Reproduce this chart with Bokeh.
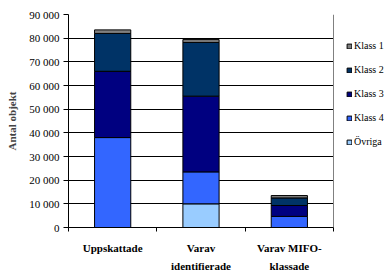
from bokeh.plotting import figure
from bokeh.models import (ColumnDataSource, FixedTicker, Range1d, Legend, LegendItem, Grid)
from bokeh.embed import file_html
from bokeh.resources import INLINE

categories = ["Uppskattade", "Varav\nidentifierade", "Varav MIFO-\nklassade"]
ovriga = [0, 10000, 0]
klass4 = [38000, 13500, 4700]
klass3 = [28000, 32000, 4600]
klass2 = [16000, 22700, 3200]
klass1 = [1500, 1200, 1000]
series_names = ["Övriga", "Klass 4", "Klass 3", "Klass 2", "Klass 1"]
colors = ["#99CCFF", "#3366FF", "#000080", "#003366", "#808080"]
y_ticks = [0, 10000, 20000, 30000, 40000, 50000, 60000, 70000, 80000, 90000]
y_tick_labels = ["0", "10 000", "20 000", "30 000", "40 000", "50 000",
                 "60 000", "70 000", "80 000", "90 000"]

W, H = 387, 274
left, right_plot, top, bottom = 68, 333, 14, 229
n = len(categories)
unit = (right_plot - left) / n
x_end = (W - left) / unit  # frame extends to the right edge so the legend is not clipped

xpos = [i + 0.5 for i in range(n)]
source = ColumnDataSource(dict(x=xpos, ovriga=ovriga, k4=klass4, k3=klass3,
                               k2=klass2, k1=klass1))
fields = ["ovriga", "k4", "k3", "k2", "k1"]

p = figure(width=W, height=H, output_backend="svg", toolbar_location=None,
           x_range=Range1d(0, x_end), y_range=Range1d(0, 90000))
p.min_border_left = left
p.min_border_right = 0
p.min_border_top = top
p.min_border_bottom = H - bottom
p.background_fill_color = "white"
p.border_fill_color = "white"
p.outline_line_color = None

rs = p.vbar_stack(fields, x="x", width=0.41, source=source, color=colors,
                  line_color="black", line_width=1)

font = "Liberation Serif"
# y axis
p.yaxis.ticker = FixedTicker(ticks=y_ticks, minor_ticks=[])
p.yaxis.major_label_overrides = {t: l for t, l in zip(y_ticks, y_tick_labels)}
p.yaxis.major_label_text_font = font
p.yaxis.major_label_text_font_size = "11px"
p.yaxis.major_label_text_color = "black"
p.yaxis.major_tick_out = 5
p.yaxis.major_tick_in = 0
p.yaxis.major_label_standoff = 4
p.yaxis.axis_line_color = "black"
p.yaxis.major_tick_line_color = "black"
p.yaxis.axis_label = "Antal objekt"
p.yaxis.axis_label_text_font = font
p.yaxis.axis_label_text_font_size = "11px"
p.yaxis.axis_label_text_font_style = "bold"
p.yaxis.axis_label_standoff = 8

# x axis
p.xaxis.bounds = (0, n)
p.xaxis.ticker = FixedTicker(ticks=xpos, minor_ticks=list(range(n + 1)))
p.xaxis.major_label_overrides = {x: c for x, c in zip(xpos, categories)}
p.xaxis.major_label_text_font = font
p.xaxis.major_label_text_font_size = "11px"
p.xaxis.major_label_text_font_style = "bold"
p.xaxis.major_label_text_color = "black"
p.xaxis.major_label_text_line_height = 1.5
p.xaxis.major_tick_out = 0
p.xaxis.major_tick_in = 0
p.xaxis.minor_tick_out = 4
p.xaxis.minor_tick_in = 0
p.xaxis.minor_tick_line_color = "black"
p.xaxis.axis_line_color = "black"
p.xaxis.major_label_standoff = 10

p.xgrid.grid_line_color = None
p.ygrid.ticker = FixedTicker(ticks=y_ticks[:-1])
p.ygrid.grid_line_color = "black"
p.ygrid.grid_line_width = 1
p.ygrid.cross_bounds = (0, n)

# gray plot-area border (top and right)
top_border = Grid(dimension=1, ticker=FixedTicker(ticks=[y_ticks[-1]]),
                  grid_line_color="#808080", cross_bounds=(0, n))
right_border = Grid(dimension=0, ticker=FixedTicker(ticks=[n]),
                    grid_line_color="#808080")
p.add_layout(top_border)
p.add_layout(right_border)

items = [LegendItem(label=nm, renderers=[r]) for nm, r in zip(series_names, rs)][::-1]
legend = Legend(items=items, location=(278, 80))
legend.padding = 0
legend.margin = 0
legend.border_line_color = None
legend.background_fill_alpha = 0
legend.glyph_width = 6
legend.glyph_height = 6
legend.label_height = 10
legend.label_standoff = 2
legend.spacing = 13
legend.label_text_font = font
legend.label_text_font_size = "10px"
legend.label_text_color = "black"
p.add_layout(legend, "center")

open("out.html", "w").write(file_html(p, INLINE))
